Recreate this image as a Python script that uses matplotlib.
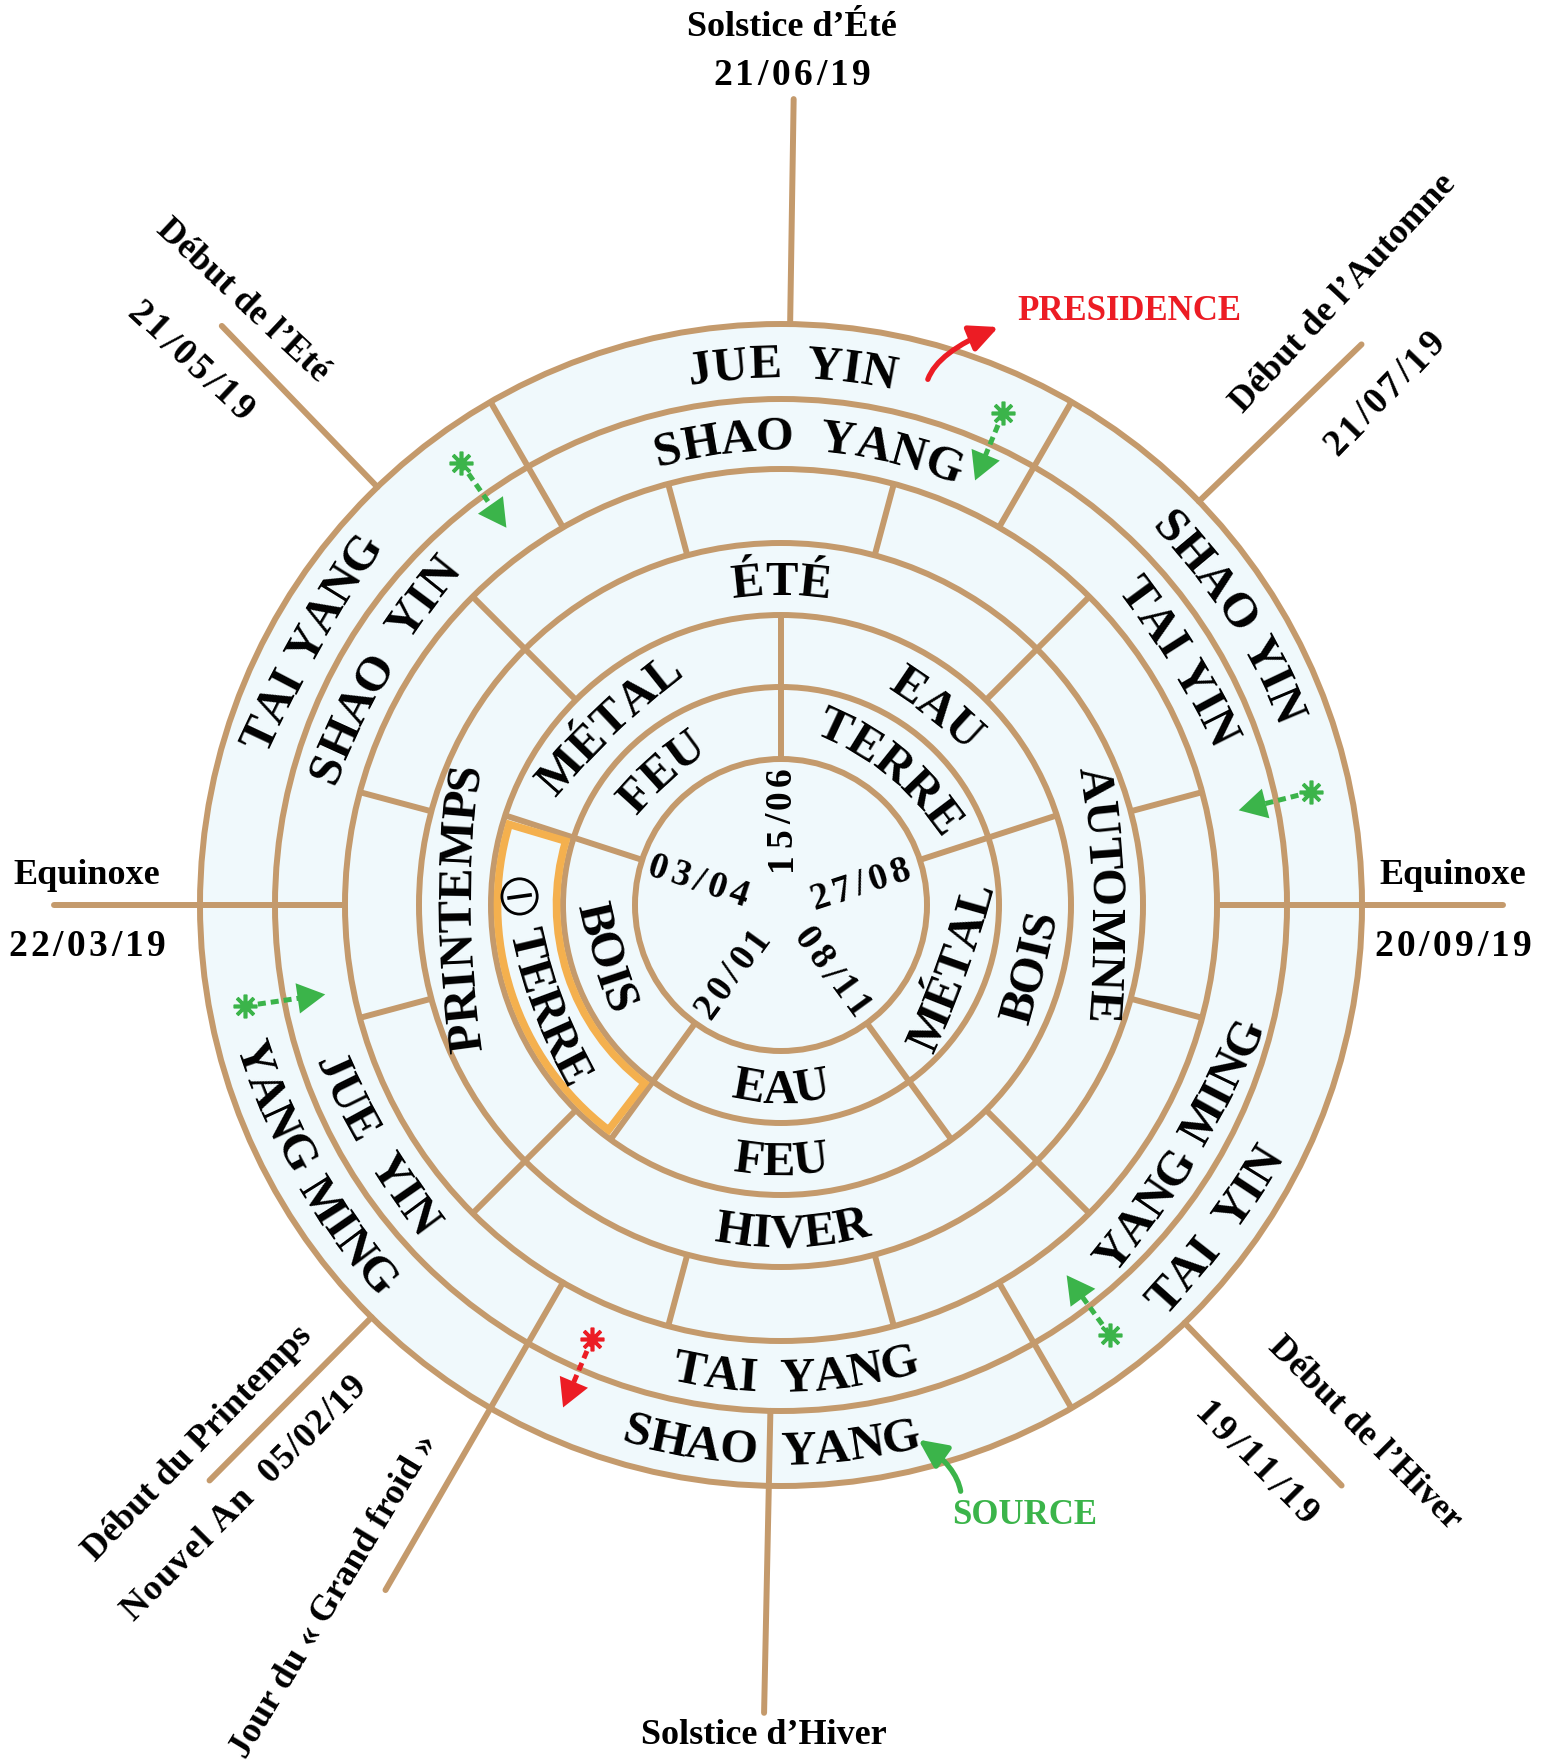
import numpy as np
import matplotlib
matplotlib.use('Agg')
import matplotlib.pyplot as plt
from matplotlib.patches import Circle, Wedge, FancyArrowPatch
from matplotlib.font_manager import FontProperties, findfont, get_font
try:
    from matplotlib.ft2font import LoadFlags
    NOHINT = LoadFlags.NO_HINTING
except Exception:
    from matplotlib.ft2font import LOAD_NO_HINTING as NOHINT

# ---------------- data ----------------
W, H, DPI = 1546, 1762, 100
CX, CY = 781, H - 905

RING_RADII = [146, 218, 290, 362, 436, 506, 581]

INNER_DIVIDERS = [90, 162, 18, -54, 234]          # rings 1-2
SEASON_DIVIDERS = [45, 135, 225, 315]             # rings 3-4
MONTH_DIVIDERS = [15, 75, 105, 165, 195, 255, 285, 345]  # ring 4
ENERGY_DIVIDERS = [60, 120, 300]                  # rings 5-6

# outer lines: angle, r_in, r_out
EXT_ANGLES = [0, 180, 240, 89.1, 268.8, 134, 44, -46, 225.2]
EXT_RIN = [436, 436, 436, 581, 506, 581, 581, 581, 581]
EXT_ROUT = [722, 727, 791, 806, 808, 805, 807, 807, 811]

RING6_LABELS = ["JUE  YIN", "SHAO YIN", "TAI  YIN", "SHAO  YANG", "YANG MING", "TAI YANG"]
RING6_ANGLES = [88.8, 32.7, -36.8, 269.0, 209.4, 150.8]
RING6_DIR = ['cw', 'cw', 'ccw', 'ccw', 'ccw', 'cw']
RING6_BEND = [1.0, 0.9, 0.6, 1.0, 0.8, 0.35]

RING5_LABELS = ["SHAO  YANG", "TAI YIN", "YANG MING", "TAI  YANG", "JUE  YIN", "SHAO  YIN"]
RING5_ANGLES = [86.5, 31.5, -31.0, 271.8, 210.6, 149.4]
RING5_DIR = ['cw', 'cw', 'ccw', 'ccw', 'ccw', 'cw']
RING5_BEND = [1.0, 0.5, 0.5, 1.0, 0.6, 0.6]

RING3_LABELS = ["ÉTÉ", "AUTOMNE", "HIVER", "PRINTEMPS"]
RING3_ANGLES = [90, 2, 272, 180.5]
RING3_DIR = ['cw', 'cw', 'ccw', 'cw']
RING3_BEND = [1.0, 0.3, 1.0, 0.3]

RING2_LABELS = ["MÉTAL", "EAU", "BOIS", "FEU", "\x01 TERRE"]
RING2_ANGLES = [133.7, 51.7, -14, 270, 197.5]
RING2_DIR = ['cw', 'cw', 'ccw', 'ccw', 'ccw']
RING2_BEND = [0.3, 0.5, 0.2, 1.0, 0.5]

RING1_LABELS = ["FEU", "TERRE", "MÉTAL", "EAU", "BOIS"]
RING1_ANGLES = [131.9, 51, -20, 270, 196.7]
RING1_DIR = ['cw', 'cw', 'ccw', 'ccw', 'ccw']
RING1_BEND = [0.5, 0.6, 0.2, 1.0, 0.3]

CENTER_DATES = ["15/06", "03/04", "27/08", "08/11", "20/01"]
CENTER_DATE_ANG = [91.5, 162.5, 16, -52, 233]
CENTER_DATE_R = [86, 86, 82, 85, 84]
CENTER_DATE_ROT = [90, -18, 18, -54, 54]

OUT_TEXT = ["Solstice d’Été", "21/06/19", "Début de l’Eté", "21/05/19",
            "Début de l’Automne", "21/07/19", "Equinoxe", "22/03/19",
            "Equinoxe", "20/09/19", "Début de l’Hiver", "19/11/19",
            "Début du Printemps", "Nouvel An  05/02/19",
            "Jour du « Grand froid »", "Solstice d’Hiver"]
OUT_X = [792, 792, 242, 192, 1344, 1383, 87, 87, 1453, 1453, 1365, 1258, 198, 242, 334, 764]
OUT_Y = [28, 73, 301, 360, 294, 392, 876, 944, 876, 944, 1434, 1462, 1444, 1496, 1596, 1736]
OUT_ROT = [0, 0, -43, -43, 47, 46, 0, 0, 0, 0, -45, -45, 46, 45, 59, 0]

# dotted influence arrows (start with asterisk -> arrow head)
DOT_START = [(461, 463), (1003, 413), (1311, 792), (245, 1006), (1110, 1335), (592, 1339)]
DOT_END = [(508, 530), (974, 483), (1236, 811), (328, 994), (1065, 1273), (562, 1410)]
DOT_COLOR = ['g', 'g', 'g', 'g', 'g', 'r']

TAN = '#c49a6c'
FILL = '#f0f9fc'
ORANGE = '#f4b04e'
GREEN = '#3bb44a'
RED = '#ec1c24'
LW = 4.3
RING_FS = 35
FONT = 'Liberation Serif'

# ---------------- figure ----------------
fig = plt.figure(figsize=(W / DPI, H / DPI), dpi=DPI)
ax = fig.add_axes([0, 0, 1, 1])
ax.set_xlim(0, W)
ax.set_ylim(0, H)
ax.axis('off')

fp_bold = FontProperties(family=FONT, weight='bold')
font_file = findfont(fp_bold)


def advances(s, size_pt):
    f = get_font(font_file)
    f.set_size(size_pt, DPI)
    out = []
    for ch in s:
        if ch == '\x01':
            out.append(0.9 * size_pt * DPI / 72)
            continue
        g = f.load_char(ord(ch), flags=NOHINT)
        out.append(g.linearHoriAdvance / 65536.0)
    return out


def polar(r, deg):
    t = np.radians(deg)
    return CX + r * np.cos(t), CY + r * np.sin(t)


def ty(y):
    return H - y


def arc_text(s, r_mid, theta_c, direction, size=RING_FS, bend=1.0, color='black'):
    fs_px = size * DPI / 72
    cap = 0.66 * fs_px
    adv = advances(s, size)
    total = sum(adv)
    th = np.radians(theta_c)
    u = np.array([np.cos(th), np.sin(th)])
    rb = r_mid - cap / 2 if direction == 'cw' else r_mid + cap / 2
    P = np.array([CX, CY]) + rb * u
    Rp = rb / max(bend, 1e-3)
    C2 = P - Rp * u
    cum = 0.0
    for ch, a in zip(s, adv):
        sc = cum + a / 2 - total / 2
        cum += a
        if ch == ' ':
            continue
        phi = sc / Rp
        ang = th - phi if direction == 'cw' else th + phi
        pos = C2 + Rp * np.array([np.cos(ang), np.sin(ang)])
        rot = np.degrees(ang) - 90 if direction == 'cw' else np.degrees(ang) + 90
        if ch == '\x01':
            up = np.array([np.cos(np.radians(rot + 90)), np.sin(np.radians(rot + 90))])
            c = pos + up * cap / 2
            rad = 0.55 * cap
            ax.add_patch(Circle(c, rad, fill=False, ec='black', lw=2.0, zorder=6))
            p1 = c + up * rad * 0.6
            p2 = c - up * rad * 0.6
            ax.plot([p1[0], p2[0]], [p1[1], p2[1]], color='black', lw=2.6, zorder=6)
            continue
        ax.text(pos[0], pos[1], ch, fontsize=size, family=FONT, weight='bold',
                rotation=rot, rotation_mode='anchor', ha='center', va='baseline',
                color=color, zorder=6)


def tracked_text(s, x, y, rot, size, track, color='black'):
    """Straight text centred on (x, y), rotated, with extra letter spacing (px)."""
    fs_px = size * DPI / 72
    cap = 0.66 * fs_px
    adv = advances(s, size)
    total = sum(adv) + track * (len(s) - 1)
    t = np.radians(rot)
    d = np.array([np.cos(t), np.sin(t)])
    n = np.array([-np.sin(t), np.cos(t)])
    base = np.array([x, y]) - n * cap / 2
    cum = 0.0
    for ch, a in zip(s, adv):
        sc = cum + a / 2 - total / 2
        cum += a + track
        if ch == ' ':
            continue
        p = base + d * sc
        ax.text(p[0], p[1], ch, fontsize=size, family=FONT, weight='bold',
                rotation=rot, rotation_mode='anchor', ha='center', va='baseline',
                color=color, zorder=6)


# disk background
ax.add_patch(Circle((CX, CY), RING_RADII[-1], fc=FILL, ec='none', zorder=1))

# circles
for r in RING_RADII:
    ax.add_patch(Circle((CX, CY), r, fill=False, ec=TAN, lw=LW, zorder=3))


def seg(deg, r1, r2, cap='butt'):
    x1, y1 = polar(r1, deg)
    x2, y2 = polar(r2, deg)
    ax.plot([x1, x2], [y1, y2], color=TAN, lw=LW, solid_capstyle=cap, zorder=3)


for a in INNER_DIVIDERS:
    seg(a, RING_RADII[0], RING_RADII[2])
for a in SEASON_DIVIDERS:
    seg(a, RING_RADII[2], RING_RADII[4])
for a in MONTH_DIVIDERS:
    seg(a, RING_RADII[3], RING_RADII[4])
for a in ENERGY_DIVIDERS:
    seg(a, RING_RADII[4], RING_RADII[6])
for a, r1, r2 in zip(EXT_ANGLES, EXT_RIN, EXT_ROUT):
    x1, y1 = polar(r1, a)
    x2, y2 = polar(r2, a)
    ax.plot([x1, x2], [y1, y2], color=TAN, lw=LW, solid_capstyle='round', zorder=3)

# orange highlighted sector
inset = 6.5
mid_r = (RING_RADII[1] + RING_RADII[2]) / 2
dth = np.degrees(inset / mid_r)
ax.add_patch(Wedge((CX, CY), RING_RADII[2] - inset, 162 + dth, 234 - dth,
                   width=(RING_RADII[2] - RING_RADII[1]) - 2 * inset,
                   fill=False, ec=ORANGE, lw=5.5, joinstyle='miter', zorder=4))

# ring labels
mids = [(RING_RADII[i] + RING_RADII[i + 1]) / 2 for i in range(6)]
for labels, angs, dirs, bends, rm in [
        (RING1_LABELS, RING1_ANGLES, RING1_DIR, RING1_BEND, mids[0]),
        (RING2_LABELS, RING2_ANGLES, RING2_DIR, RING2_BEND, mids[1]),
        (RING3_LABELS, RING3_ANGLES, RING3_DIR, RING3_BEND, mids[2]),
        (RING5_LABELS, RING5_ANGLES, RING5_DIR, RING5_BEND, mids[4]),
        (RING6_LABELS, RING6_ANGLES, RING6_DIR, RING6_BEND, mids[5])]:
    for s, a, d, b in zip(labels, angs, dirs, bends):
        arc_text(s, rm, a, d, bend=b)

# center dates
for s, a, r, rot in zip(CENTER_DATES, CENTER_DATE_ANG, CENTER_DATE_R, CENTER_DATE_ROT):
    x, y = polar(r, a)
    tracked_text(s, x, y, rot, 27, 4.5)

# outside labels
for s, x, y, rot in zip(OUT_TEXT, OUT_X, OUT_Y, OUT_ROT):
    if s[0].isdigit() or s.startswith("Nouvel"):
        tr = 3.5 if s[0].isdigit() else 1.2
        tracked_text(s, x, ty(y), rot, 27 if s[0].isdigit() else 26, tr)
    else:
        ax.text(x, ty(y), s, fontsize=26, family=FONT, weight='bold', rotation=rot,
                rotation_mode='anchor', ha='center', va='center', zorder=6)

# PRESIDENCE / SOURCE
ax.text(1129, ty(312), "PRESIDENCE", fontsize=25, family=FONT, weight='bold',
        color=RED, ha='center', va='center', zorder=6)
ax.text(1025, ty(1515), "SOURCE", fontsize=25, family=FONT, weight='bold',
        color=GREEN, ha='center', va='center', zorder=6)
ax.add_patch(FancyArrowPatch((927, ty(382)), (1001, ty(326)),
                             connectionstyle='angle3,angleA=75,angleB=22',
                             arrowstyle='-|>,head_length=0.95,head_width=0.45',
                             mutation_scale=18, color=RED, lw=3.8, zorder=7))
ax.add_patch(FancyArrowPatch((961, ty(1494)), (916, ty(1438)),
                             connectionstyle='angle3,angleA=95,angleB=145',
                             arrowstyle='-|>,head_length=0.95,head_width=0.45',
                             mutation_scale=18, color=GREEN, lw=3.8, zorder=7))

# dotted arrows with asterisks
for (x0, y0), (x1, y1), c in zip(DOT_START, DOT_END, DOT_COLOR):
    col = GREEN if c == 'g' else RED
    y0, y1 = ty(y0), ty(y1)
    d = np.hypot(x1 - x0, y1 - y0)
    ux, uy = (x1 - x0) / d, (y1 - y0) / d
    hl = 22
    ax.plot([x0, x1 - ux * hl], [y0, y1 - uy * hl], color=col, lw=3.6,
            ls=(0, (1.6, 1.0)), zorder=7)
    ax.add_patch(FancyArrowPatch((x1 - ux * (hl + 2), y1 - uy * (hl + 2)), (x1, y1),
                                 arrowstyle='-|>,head_length=1.0,head_width=0.55',
                                 mutation_scale=20, color=col, lw=0, zorder=7))
    ax.plot([x0], [y0], marker=(8, 2, 0), ms=17, mew=2.6, color=col, zorder=8)

fig.savefig('out.png', dpi=DPI)
